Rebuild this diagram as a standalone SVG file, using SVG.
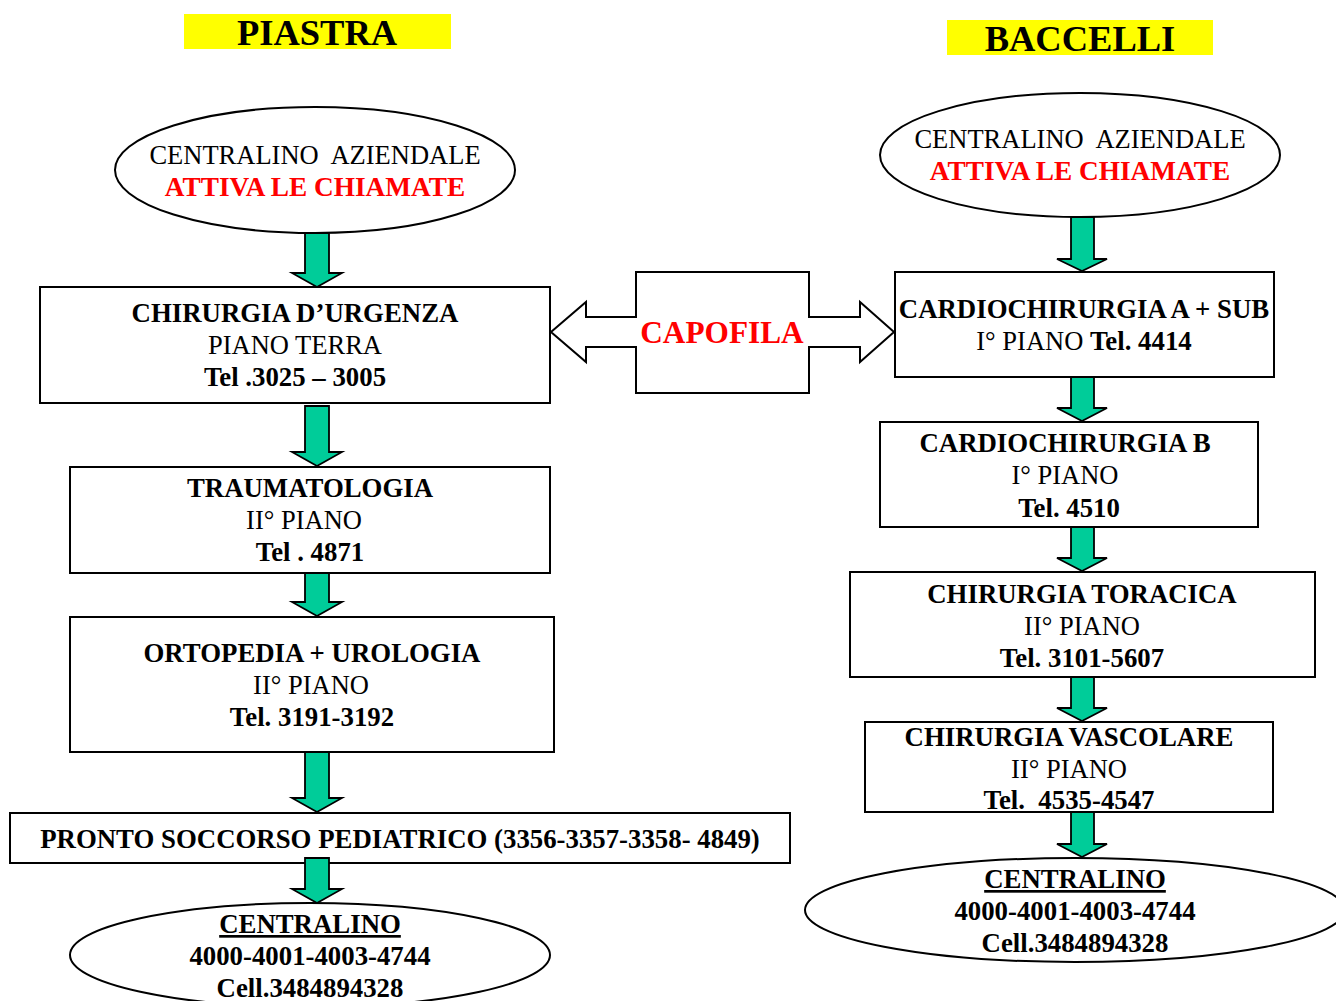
<svg xmlns="http://www.w3.org/2000/svg" width="1336" height="1001" viewBox="0 0 1336 1001">
<style>
text{font-family:"Liberation Serif","Times New Roman",serif;font-size:26.5px;text-anchor:middle;fill:#000;white-space:pre}
.b{font-weight:bold;font-size:26.8px}
.red{fill:#ff0000;font-weight:bold;font-size:27.3px}
.title{font-size:36.5px;font-weight:bold}
.shape{fill:#fff;stroke:#000;stroke-width:2}
.hl{fill:#ffff00}
.arr{fill:#00cc99;stroke:#000;stroke-width:1.8;stroke-linejoin:miter}
.u{text-decoration:underline}
</style>
<rect width="1336" height="1001" fill="#fff"/>
<g id="title-piastra"><rect class="hl" x="184" y="14" width="267" height="35"/><text class="title" x="317" y="45">PIASTRA</text></g>
<g id="title-baccelli"><rect class="hl" x="947" y="20" width="266" height="35"/><text class="title" x="1080" y="51">BACCELLI</text></g>

<g id="p-centralino-az"><ellipse class="shape" cx="315" cy="170" rx="200" ry="63"/><text x="315" y="164">CENTRALINO  AZIENDALE</text><text class="red" x="315" y="196">ATTIVA LE CHIAMATE</text></g>
<g id="p-chirurgia-urgenza"><rect class="shape" x="40" y="287" width="510" height="116"/><text class="b" x="295" y="322">CHIRURGIA D’URGENZA</text><text x="295" y="354">PIANO TERRA</text><text class="b" x="295" y="386">Tel .3025 – 3005</text></g>
<g id="p-traumatologia"><rect class="shape" x="70" y="467" width="480" height="106"/><text class="b" x="310" y="497">TRAUMATOLOGIA</text><text x="304" y="529">II° PIANO</text><text class="b" x="310" y="561">Tel . 4871</text></g>
<g id="p-ortopedia"><rect class="shape" x="70" y="617" width="484" height="135"/><text class="b" x="312" y="662">ORTOPEDIA + UROLOGIA</text><text x="311" y="694">II° PIANO</text><text class="b" x="312" y="726">Tel. 3191-3192</text></g>
<g id="p-pronto-soccorso"><rect class="shape" x="10" y="813" width="780" height="50"/><text class="b" x="400" y="848">PRONTO SOCCORSO PEDIATRICO (3356-3357-3358- 4849)</text></g>
<g id="p-centralino"><ellipse class="shape" cx="310" cy="955" rx="240" ry="52"/><text class="b u" x="310" y="933">CENTRALINO</text><text class="b" x="310" y="965">4000-4001-4003-4744</text><text class="b" x="310" y="997">Cell.3484894328</text></g>

<g id="capofila"><path class="shape" d="M551,332 L586,302 L586,317 L636,317 L636,272 L809,272 L809,317 L860,317 L860,302 L894,332 L860,362 L860,347 L809,347 L809,393 L636,393 L636,347 L586,347 L586,362 Z"/><text class="red" style="font-size:31.3px" x="722" y="343">CAPOFILA</text></g>

<g id="b-centralino-az"><ellipse class="shape" cx="1080" cy="155" rx="200" ry="62"/><text x="1080" y="148">CENTRALINO  AZIENDALE</text><text class="red" x="1080" y="180">ATTIVA LE CHIAMATE</text></g>
<g id="b-cardio-a"><rect class="shape" x="895" y="272" width="379" height="105"/><text class="b" x="1084" y="318">CARDIOCHIRURGIA A + SUB</text><text x="1084" y="350">I° PIANO <tspan class="b">Tel. 4414</tspan></text></g>
<g id="b-cardio-b"><rect class="shape" x="880" y="422" width="378" height="105"/><text class="b" x="1065" y="452">CARDIOCHIRURGIA B</text><text x="1065" y="484">I° PIANO</text><text class="b" x="1069" y="517">Tel. 4510</text></g>
<g id="b-toracica"><rect class="shape" x="850" y="572" width="465" height="105"/><text class="b" x="1082" y="603">CHIRURGIA TORACICA</text><text x="1082" y="635">II° PIANO</text><text class="b" x="1082" y="667">Tel. 3101-5607</text></g>
<g id="b-vascolare"><rect class="shape" x="865" y="722" width="408" height="90"/><text class="b" x="1069" y="746">CHIRURGIA VASCOLARE</text><text x="1069" y="778">II° PIANO</text><text class="b" x="1069" y="809">Tel.  4535-4547</text></g>
<g id="b-centralino"><ellipse class="shape" cx="1075" cy="910" rx="270" ry="52"/><text class="b u" x="1075" y="888">CENTRALINO</text><text class="b" x="1075" y="920">4000-4001-4003-4744</text><text class="b" x="1075" y="952">Cell.3484894328</text></g>

<g id="connectors">
<path class="arr" d="M305,233 H329 V273 H342 L317,287 L292,273 H305 Z"/>
<path class="arr" d="M305,406 H329 V452 H342 L317,466 L292,452 H305 Z"/>
<path class="arr" d="M305,573 H329 V602 H342 L317,616 L292,602 H305 Z"/>
<path class="arr" d="M305,752 H329 V798 H342 L317,812 L292,798 H305 Z"/>
<path class="arr" d="M305,858 H329 V889 H342 L317,903 L292,889 H305 Z"/>
<path class="arr" d="M1071,217 H1094 V259 H1107 L1082,271 L1057,259 H1071 Z"/>
<path class="arr" d="M1071,377 H1094 V408 H1107 L1082,421 L1057,408 H1071 Z"/>
<path class="arr" d="M1071,527 H1094 V558 H1107 L1082,571 L1057,558 H1071 Z"/>
<path class="arr" d="M1071,677 H1094 V708 H1107 L1082,721 L1057,708 H1071 Z"/>
<path class="arr" d="M1071,812 H1094 V844 H1107 L1082,857 L1057,844 H1071 Z"/>
</g>
</svg>
